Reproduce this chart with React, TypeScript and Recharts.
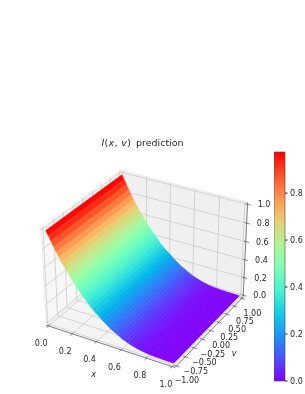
import { Bar, BarChart, ComposedChart, Line, Scatter, XAxis, YAxis } from "recharts"

// x positions of the surface and the height read along them (flat across v)
const xValues = [0, 0.02, 0.04, 0.06, 0.08, 0.1, 0.12, 0.14, 0.16, 0.18, 0.2, 0.22, 0.24, 0.26, 0.28, 0.3, 0.32, 0.34, 0.36, 0.38, 0.4, 0.42, 0.44, 0.46, 0.48, 0.5, 0.52, 0.54, 0.56, 0.58, 0.6, 0.62, 0.64, 0.66, 0.68, 0.7, 0.72, 0.74, 0.76, 0.78, 0.8, 0.82, 0.84, 0.86, 0.88, 0.9, 0.92, 0.94, 0.96, 0.98, 1]
const zValues = [0.99, 0.945, 0.895, 0.845, 0.795, 0.75, 0.705, 0.665, 0.625, 0.59, 0.555, 0.52, 0.485, 0.45, 0.42, 0.39, 0.36, 0.33, 0.305, 0.28, 0.26, 0.24, 0.215, 0.195, 0.175, 0.155, 0.14, 0.125, 0.11, 0.095, 0.08, 0.07, 0.06, 0.05, 0.04, 0.033, 0.027, 0.021, 0.016, 0.012, 0.009, 0.007, 0.005, 0.004, 0.003, 0.002, 0.001, 0.001, 0, 0, 0]
const xTicks = [0, 0.2, 0.4, 0.6, 0.8, 1]
const vTicks = [-1, -0.75, -0.5, -0.25, 0, 0.25, 0.5, 0.75, 1]
const zTicks = [0, 0.2, 0.4, 0.6, 0.8, 1]
const barTicks = [0, 0.2, 0.4, 0.6, 0.8]
const barMax = 0.975

const WIDTH = 305
const HEIGHT = 394
const SCALE = 1190
const CX = 146.5
const CY = 264
const TEXT = "#262626"
const FONT = "DejaVu Sans"
const TICK_FONT = 8

const padX = 1 / 48
const padV = 2 / 48
const padZ = 1 / 48

type Pt = { px: number; py: number; label?: string; dx?: number; dy?: number; italic?: boolean }

// same view as a matplotlib 3d axes: elev 30, azim -60, box 4:4:3, dist 10
function project(x: number, v: number, z: number): Pt {
  const bx = 1.1905 * (x - 0.5)
  const by = 1.1905 * ((v + 1) / 2 - 0.5)
  const bz = 0.8929 * (z - 0.5)
  const xv = 0.866 * bx + 0.5 * by
  const yv = -0.25 * bx + 0.433 * by + 0.866 * bz
  const depth = 0.433 * bx - 0.75 * by + 0.5 * bz
  const d = 10 - depth
  return { px: xv / d, py: yv / d }
}

function rainbow(t: number) {
  const c = (n: number) => Math.round(Math.min(1, Math.max(0, n)) * 255)
  return `rgb(${c(Math.abs(2 * t - 0.5))},${c(Math.sin(Math.PI * t))},${c(Math.cos((Math.PI * t) / 2))})`
}

const x0 = -padX
const x1 = 1 + padX
const v0 = -1 - padV
const v1 = 1 + padV
const z0 = -padZ
const z1 = 1 + padZ

const panes = [
  { fill: "#f4f4f4", pts: [project(x0, v0, z0), project(x1, v0, z0), project(x1, v1, z0), project(x0, v1, z0)] },
  { fill: "#f7f7f7", pts: [project(x0, v0, z0), project(x0, v1, z0), project(x0, v1, z1), project(x0, v0, z1)] },
  { fill: "#f0f0f0", pts: [project(x0, v1, z0), project(x1, v1, z0), project(x1, v1, z1), project(x0, v1, z1)] },
]

const gridLines: Pt[][] = [
  ...xTicks.map((t) => [project(t, v0, z0), project(t, v1, z0), project(t, v1, z1)]),
  ...vTicks.map((t) => [project(x1, t, z0), project(x0, t, z0), project(x0, t, z1)]),
  ...zTicks.map((t) => [project(x0, v0, t), project(x0, v1, t), project(x1, v1, t)]),
]

const axisLines: Pt[][] = [
  [project(x0, v0, z0), project(x1, v0, z0), project(x1, v1, z0), project(x1, v1, z1)],
  ...xTicks.map((t) => [project(t, v0 + 0.03, z0), project(t, v0 - 0.05, z0)]),
  ...vTicks.map((t) => [project(x1 - 0.015, t, z0), project(x1 + 0.025, t, z0)]),
  ...zTicks.map((t) => [project(x1 - 0.015, v1, t), project(x1 + 0.025, v1, t)]),
]

// back to front, so the nearer strips sit on top
const strips = xValues.slice(0, -1).map((x, i) => {
  const xn = xValues[i + 1]
  const a = project(x, -1, zValues[i])
  return {
    color: rainbow((zValues[i] + zValues[i + 1]) / 2 / barMax),
    pts: [a, project(xn, -1, zValues[i + 1]), project(xn, 1, zValues[i + 1]), project(x, 1, zValues[i]), a],
  }
})

const label = (p: Pt, text: string, dx: number, dy: number, italic = false): Pt => ({ ...p, label: text, dx, dy, italic })

const tickLabels: Pt[] = [
  ...xTicks.map((t) => label(project(t, v0, z0), t.toFixed(1), -7.3 + t, 17.5)),
  ...vTicks.map((t) => label(project(x1, t, z0), t.toFixed(2).replace("-", "\u2212"), 10.5, 15)),
  ...zTicks.map((t) => label(project(x1, v1, t), t.toFixed(1), 16.5, 0.5)),
  label(project(0.5, v0, z0), "x", -15, 29, true),
  label(project(x1, 0, z0), "v", 23.5, 23, true),
]

const barData = [{ name: "z", value: barMax }]
const stops = [0, 0.1, 0.2, 0.3, 0.4, 0.5, 0.6, 0.7, 0.8, 0.9, 1]

const TickText = (p: any) => {
  const d = p.payload ?? p
  return (
    <text x={p.cx + d.dx} y={p.cy + d.dy} textAnchor="middle" dominantBaseline="central" fontSize={TICK_FONT} fontFamily={FONT} fontStyle={d.italic ? "italic" : "normal"} fill={TEXT}>
      {d.label}
    </text>
  )
}

export default function App() {
  return (
    <div style={{ position: "absolute", left: 0, top: 0, width: WIDTH, height: HEIGHT, background: "#fff", filter: "blur(0.35px)" }}>
      <div style={{ position: "absolute", left: 0, top: 137, width: 285, textAlign: "center", fontFamily: FONT, fontSize: 9.5, lineHeight: "12px", color: TEXT, whiteSpace: "pre" }}>
        <span style={{ letterSpacing: 0.35, marginRight: 1.5 }}>
          <i>I</i>(<i>x</i>, <i>v</i>)
        </span>{" "}
        prediction
      </div>
      <div style={{ position: "absolute", left: 0, top: 0 }}>
        <ComposedChart width={WIDTH} height={HEIGHT} margin={{ top: 0, right: 0, bottom: 0, left: 0 }}>
          <XAxis hide type="number" dataKey="px" domain={[-CX / SCALE, (WIDTH - CX) / SCALE]} allowDataOverflow />
          <YAxis hide type="number" dataKey="py" domain={[(CY - HEIGHT) / SCALE, CY / SCALE]} allowDataOverflow />
          {panes.map((p, i) => (
            <Line key={`pane${i}`} data={[...p.pts, p.pts[0]]} dataKey="py" type="linear" stroke="#e4e4e4" strokeWidth={0.7} style={{ fill: p.fill }} dot={false} activeDot={false} legendType="none" isAnimationActive={false} />
          ))}
          {gridLines.map((pts, i) => (
            <Line key={`grid${i}`} data={pts} dataKey="py" type="linear" stroke="#c8c8c8" strokeWidth={0.75} dot={false} activeDot={false} legendType="none" isAnimationActive={false} />
          ))}
          {axisLines.map((pts, i) => (
            <Line key={`axis${i}`} data={pts} dataKey="py" type="linear" stroke="#3a3a3a" strokeWidth={0.6} dot={false} activeDot={false} legendType="none" isAnimationActive={false} />
          ))}
          {strips.map((s, i) => (
            <Line key={`strip${i}`} data={s.pts} dataKey="py" type="linear" stroke={s.color} strokeWidth={0.5} style={{ fill: s.color }} dot={false} activeDot={false} legendType="none" isAnimationActive={false} />
          ))}
          <Scatter data={tickLabels} dataKey="py" shape={TickText} isAnimationActive={false} />
        </ComposedChart>
      </div>
      <div style={{ position: "absolute", left: 274, top: 146 }}>
        <BarChart width={31} height={241} data={barData} margin={{ top: 6, right: 0, bottom: 6, left: 0 }} barCategoryGap={0}>
          <defs>
            <linearGradient id="rainbowBar" x1="0" y1="1" x2="0" y2="0">
              {stops.map((s) => (
                <stop key={s} offset={s} stopColor={rainbow(s)} />
              ))}
            </linearGradient>
          </defs>
          <XAxis dataKey="name" hide />
          <YAxis orientation="right" width={20} type="number" domain={[0, barMax]} ticks={barTicks} tickFormatter={(v: number) => v.toFixed(1)} axisLine={false} tickSize={2.5} tickMargin={2.5} interval={0} stroke={TEXT} tick={{ fontSize: TICK_FONT, fontFamily: FONT, fill: TEXT }} />
          <Bar dataKey="value" fill="url(#rainbowBar)" stroke="#444" strokeWidth={0.6} isAnimationActive={false} />
        </BarChart>
      </div>
    </div>
  )
}
